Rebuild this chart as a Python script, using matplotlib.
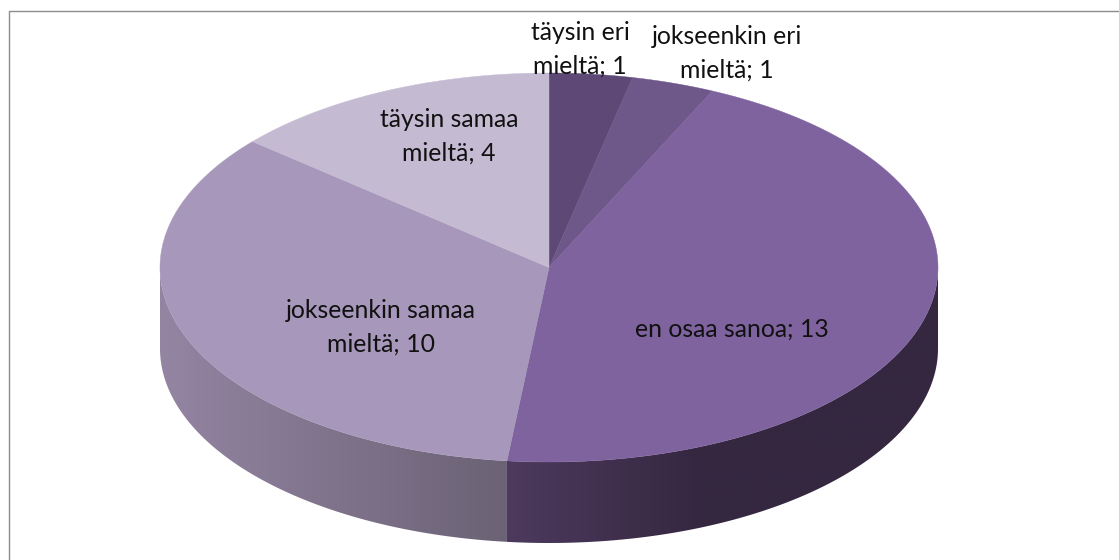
import numpy as np
import matplotlib
matplotlib.use("Agg")
import matplotlib.pyplot as plt
from matplotlib.patches import Polygon

labels = ["täysin eri\nmieltä; 1", "jokseenkin eri\nmieltä; 1", "en osaa sanoa; 13",
          "jokseenkin samaa\nmieltä; 10", "täysin samaa\nmieltä; 4"]
values = [1, 1, 13, 10, 4]
top_colors = ["#5E4876", "#6E5789", "#7F639F", "#A798BB", "#C4BBD3"]
label_xy = [(580, 49), (727, 53), (732, 329), (381, 327), (449, 136)]

# wall shading (colour as a function of horizontal position)
wall_left_x = [160, 507]
wall_left_rgb = [(148, 133, 163), (107, 98, 117)]
wall_right_x = [507, 700, 938]
wall_right_rgb = [(77, 58, 94), (53, 39, 64), (53, 39, 64)]

cx, cy, rx, ry, depth = 549, 267.5, 389, 194.5, 81

plt.rcParams['font.family'] = ['Lato', 'DejaVu Sans']
fig = plt.figure(figsize=(11.19, 5.6), dpi=100)
ax = fig.add_axes([0, 0, 1, 1])
ax.set_xlim(0, 1119)
ax.set_ylim(560, 0)
ax.axis("off")


def px(a):
    return cx + rx * np.sin(a)


def py(a, dz=0):
    return cy - ry * np.cos(a) + dz


edges = np.cumsum([0] + values) / sum(values) * 2 * np.pi

# outer wall: horizontal gradient clipped to the front arc of each slice
for lo, hi, xs, rgbs in [(np.pi / 2, edges[3], wall_right_x, wall_right_rgb),
                         (edges[3], 3 * np.pi / 2, wall_left_x, wall_left_rgb)]:
    ang = np.linspace(lo, hi, 300)
    verts = np.c_[np.r_[px(ang), px(ang[::-1])], np.r_[py(ang), py(ang[::-1], depth)]]
    clip = Polygon(verts, closed=True, transform=ax.transData, facecolor="none", edgecolor="none")
    ax.add_patch(clip)
    x0, x1 = verts[:, 0].min(), verts[:, 0].max()
    grid = np.linspace(x0, x1, 600)
    grad = np.stack([np.interp(grid, xs, [c[i] for c in rgbs]) / 255 for i in range(3)], axis=-1)[None, :, :]
    im = ax.imshow(grad, extent=(x0, x1, verts[:, 1].max(), verts[:, 1].min()),
                   aspect="auto", zorder=2, interpolation="bilinear")
    im.set_clip_path(clip)
ax.set_xlim(0, 1119)
ax.set_ylim(560, 0)

# top face
for v0, v1, col in zip(edges[:-1], edges[1:], top_colors):
    a = np.linspace(v0, v1, 200)
    ax.fill(np.r_[cx, px(a)], np.r_[cy, py(a)], facecolor=col, edgecolor=col, lw=0.3, zorder=3)

# frame: top and left edges only
ax.plot([8.5, 8.5, 1119], [560, 10.5, 10.5], color="#8C8C8C", lw=1, zorder=1, solid_joinstyle="miter")

for t, (x, y) in zip(labels, label_xy):
    ax.text(x, y, t, ha="center", va="center", fontsize=17.8, color="#111111",
            linespacing=1.55, zorder=5)

fig.savefig("out.png", dpi=100, facecolor="white")
